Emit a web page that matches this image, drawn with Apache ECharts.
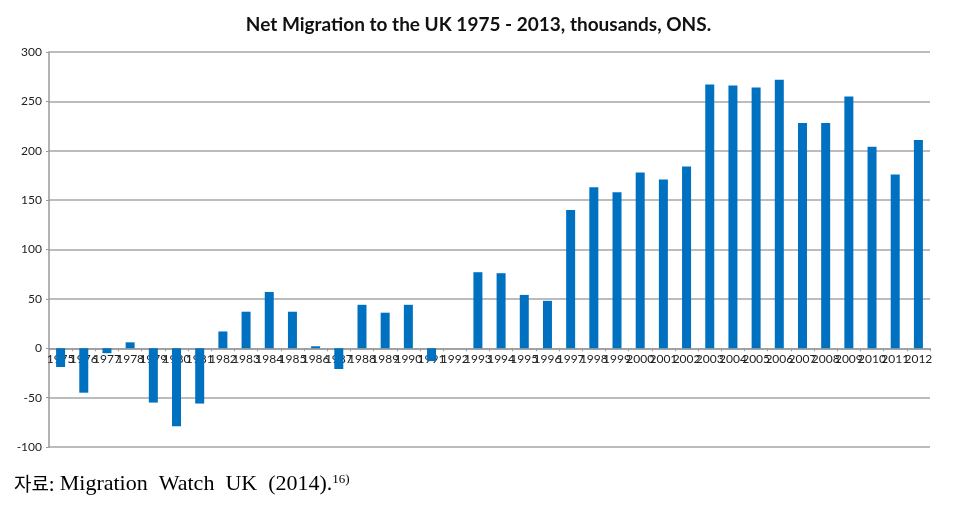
<!DOCTYPE html>
<html><head><meta charset="utf-8">
<script src="https://cdn.jsdelivr.net/npm/echarts@6/dist/echarts.min.js"></script>
<style>html,body{margin:0;padding:0;background:#fff}#c{width:957px;height:509px}</style>
</head><body><div id="c"></div>
<script>
const years = ['1975','1976','1977','1978','1979','1980','1981','1982','1983','1984','1985','1986','1987','1988','1989','1990','1991','1992','1993','1994','1995','1996','1997','1998','1999','2000','2001','2002','2003','2004','2005','2006','2007','2008','2009','2010','2011','2012'];
const netMigration = [-19,-45,-5,6,-55,-79,-56,17,37,57,37,2,-21,44,36,44,-13,0,77,76,54,48,140,163,158,178,171,184,267,266,264,272,228,228,255,204,176,211];
const yTicks = {min:-100, max:300, interval:50};
const titleText = 'Net Migration to the UK 1975 - 2013, thousands, ONS.';
const sourceLabel = '자료:';
const sourceText = ' Migration  Watch  UK  (2014).';
const sourceNote = '16)';

const chart = echarts.init(document.getElementById('c'));
const option = {
  animation:false,
  backgroundColor:'#fff',
  title:{text:titleText,left:'center',top:10,textStyle:{fontFamily:'Lato',fontWeight:'bold',fontSize:19,color:'#111'}},
  grid:{left:49,right:27,top:52,bottom:62},
  xAxis:{type:'category',data:years,offset:0,
    axisLine:{onZero:false,lineStyle:{color:'#999',width:1.5}},
    axisTick:{show:true,length:3,lineStyle:{color:'#999'}},
    axisLabel:{interval:0,fontFamily:'Lato',fontSize:12,color:'#222',margin:5}},
  yAxis:{type:'value',min:yTicks.min,max:yTicks.max,interval:yTicks.interval,
    axisLine:{show:true,lineStyle:{color:'#999',width:1.5}},
    axisTick:{show:true,length:3,lineStyle:{color:'#999'}},
    splitLine:{lineStyle:{color:'#a6a6a6',width:1.5}},
    axisLabel:{fontFamily:'Lato',fontSize:12,color:'#222',margin:7}},
  series:[{type:'bar',data:netMigration,barWidth:9,itemStyle:{color:'#0070C0'}}],
  graphic:[{type:'text',left:14,top:473,style:{
    text:'{k|'+sourceLabel+'}{a|'+sourceText+'}{b|'+sourceNote+'}',
    rich:{k:{fontFamily:'Noto Sans CJK KR',fontSize:19,fill:'#000'},
          a:{fontFamily:'Liberation Serif',fontSize:22,fill:'#000'},
          b:{fontFamily:'Liberation Serif',fontSize:13,fill:'#000',verticalAlign:'top',padding:[0,0,8,0]}}}}]
};
chart.setOption(option);
// move the category axis (line, ticks and labels) up to the zero line
const zeroY = chart.convertToPixel({yAxisIndex:0}, 0);
const bottomY = chart.convertToPixel({yAxisIndex:0}, yTicks.min);
chart.setOption({xAxis:{offset:-(bottomY - zeroY)}});
</script></body></html>
